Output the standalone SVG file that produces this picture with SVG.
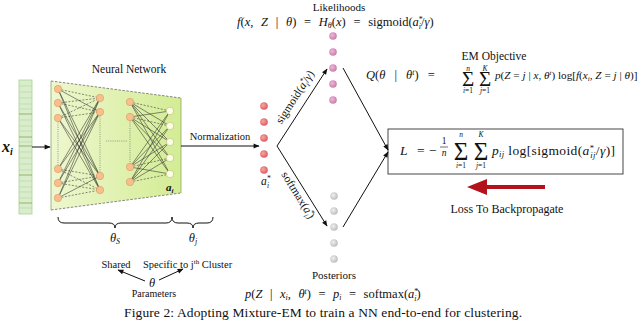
<svg xmlns="http://www.w3.org/2000/svg" width="640" height="327" viewBox="0 0 640 327" font-family="'Liberation Serif', 'Times New Roman', serif">
<defs>
<style>
text{font-family:"Liberation Serif","Times New Roman",serif;fill:#111}
.i{font-style:italic}
.ln{stroke:#111;stroke-width:1;fill:none}
.nn{stroke:#2a2a2a;stroke-width:0.55;fill:none}
.nd{stroke:#2a2a2a;stroke-width:0.55;fill:none;stroke-dasharray:2 1.5}
.dot{stroke:#444;stroke-width:0.5;stroke-dasharray:1 1.2;fill:none}
.o{fill:#f8bf8c;stroke:#d89a63;stroke-width:0.6}
.w{fill:#fdfde6;stroke:#c2c47c;stroke-width:0.7}
.r{fill:url(#rg)}
.p{fill:url(#pg)}
.g{fill:url(#gg)}
</style>
<linearGradient id="tz" x1="0" y1="0" x2="1" y2="0">
<stop offset="0" stop-color="#eef7cf"/>
<stop offset="1" stop-color="#d3ec94"/>
</linearGradient>
<radialGradient id="rg" cx="0.4" cy="0.4" r="0.6"><stop offset="0" stop-color="#f7a8a8"/><stop offset="1" stop-color="#e05a5a"/></radialGradient>
<radialGradient id="pg" cx="0.4" cy="0.4" r="0.6"><stop offset="0" stop-color="#efb8d8"/><stop offset="1" stop-color="#cc7aab"/></radialGradient>
<radialGradient id="gg" cx="0.4" cy="0.4" r="0.6"><stop offset="0" stop-color="#f0f0f0"/><stop offset="1" stop-color="#bdbdbd"/></radialGradient>
<marker id="ah" viewBox="0 0 10 10" refX="9" refY="5" markerWidth="7" markerHeight="6" markerUnits="userSpaceOnUse" orient="auto"><path d="M0,1 L10,5 L0,9 z" fill="#111"/></marker>
</defs>

<g id="input-vector">
<rect x="19" y="80" width="13" height="134" fill="#d9edcc" stroke="#a9d097" stroke-width="0.8"/>
<path d="M19,86H32M19,92H32M19,98H32M19,104H32M19,109H32M19,120H32M19,126H32M19,131H32M19,142H32M19,152H32M19,158H32M19,164H32M19,170H32M19,181H32M19,187H32M19,192H32M19,198H32M19,208H32" stroke="#b9d9a8" stroke-width="0.7"/>
<path d="M19,114H32M19,137H32M19,146H32M19,175H32M19,203H32" stroke="#8fae5c" stroke-width="0.9"/>
<text class="i" x="2" y="152" font-size="16" font-weight="bold">x<tspan font-size="10" dy="3">i</tspan></text>
</g>

<g id="neural-network">
<polygon points="51,81 181,98 181,193 51,210" fill="url(#tz)"/>
<path d="M51,81L181,98M51,210L181,193" stroke="#555" stroke-width="0.7" stroke-dasharray="2.5 1.5" fill="none"/>
<path d="M51,81V210M181,98V193" stroke="#8aa860" stroke-width="0.8" fill="none"/>
<text x="129" y="73" font-size="11.5" text-anchor="middle">Neural Network</text>
<path class="dot" d="M58,118V169M100,112V176M130,117V167M106,141H128"/>
<path class="nn" d="M58,89L100,176M58,89L100,190M58,103L100,176M58,103L100,190M58,118L100,176M58,118L100,190M58,169L100,98M58,169L100,112M58,183L100,98M58,183L100,112M58,198L100,98M58,198L100,112M58,89L100,112M58,198L100,176"/>
<path class="nd" d="M58,89L100,98M58,103L100,98M58,103L100,112M58,118L100,98M58,118L100,112M58,169L100,176M58,169L100,190M58,183L100,176M58,183L100,190M58,198L100,190"/>
<path class="nn" d="M130,102L170,126M130,102L170,142M130,102L170,158M130,102L170,174M130,117L170,111M130,117L170,142M130,117L170,158M130,117L170,174M130,167L170,111M130,167L170,126M130,167L170,142M130,167L170,174M130,182L170,111M130,182L170,126M130,182L170,142M130,182L170,158"/>
<path class="nd" d="M130,102L170,111M130,117L170,126M130,167L170,158M130,182L170,174"/>
<g>
<circle class="o" cx="58" cy="89" r="3.7"/><circle class="o" cx="58" cy="103" r="3.7"/><circle class="o" cx="58" cy="118" r="3.7"/>
<circle class="o" cx="58" cy="169" r="3.7"/><circle class="o" cx="58" cy="183" r="3.7"/><circle class="o" cx="58" cy="198" r="3.7"/>
<circle class="o" cx="100" cy="98" r="3.7"/><circle class="o" cx="100" cy="112" r="3.7"/><circle class="o" cx="100" cy="176" r="3.7"/><circle class="o" cx="100" cy="190" r="3.7"/>
<circle class="o" cx="130" cy="102" r="3.7"/><circle class="o" cx="130" cy="117" r="3.7"/><circle class="o" cx="130" cy="167" r="3.7"/><circle class="o" cx="130" cy="182" r="3.7"/>
<circle class="w" cx="170" cy="111" r="3.7"/><circle class="w" cx="170" cy="126" r="3.7"/><circle class="w" cx="170" cy="142" r="3.7"/><circle class="w" cx="170" cy="158" r="3.7"/><circle class="w" cx="170" cy="174" r="3.7"/>
</g>
<text class="i" x="166" y="191" font-size="11" font-weight="bold">a<tspan font-size="7" dy="2">i</tspan></text>
</g>

<g id="activations">
<circle class="r" cx="264" cy="106" r="3.8"/><circle class="r" cx="264" cy="122" r="3.8"/><circle class="r" cx="264" cy="138" r="3.8"/><circle class="r" cx="264" cy="154" r="3.8"/><circle class="r" cx="264" cy="170" r="3.8"/>
<text class="i" x="261" y="185" font-size="11.5">a<tspan font-size="7.5" dy="-4">*</tspan><tspan font-size="7.5" dx="-3.5" dy="7">i</tspan></text>
</g>

<g id="likelihoods">
<text x="339" y="11" font-size="11" text-anchor="middle">Likelihoods</text>
<text x="237" y="26" font-size="12.5" word-spacing="4.6"><tspan class="i">f</tspan>(<tspan class="i">x</tspan>, <tspan class="i">Z</tspan> | <tspan class="i">θ</tspan>) = <tspan class="i">H</tspan><tspan class="i" font-size="8" dy="2">θ</tspan><tspan dy="-2">(</tspan><tspan class="i">x</tspan>) = sigmoid(<tspan class="i">a</tspan><tspan font-size="8" dy="-4">*</tspan><tspan class="i" font-size="8" dx="-4" dy="7">i</tspan><tspan dy="-3">/</tspan><tspan class="i">γ</tspan>)</text>
<circle class="p" cx="333" cy="36" r="3.8"/><circle class="p" cx="333" cy="52" r="3.8"/><circle class="p" cx="333" cy="68" r="3.8"/><circle class="p" cx="333" cy="84" r="3.8"/><circle class="p" cx="333" cy="100" r="3.8"/>
</g>

<g id="posteriors">
<circle class="g" cx="334" cy="196" r="3.8"/><circle class="g" cx="334" cy="211" r="3.8"/><circle class="g" cx="334" cy="227" r="3.8"/><circle class="g" cx="334" cy="243" r="3.8"/><circle class="g" cx="334" cy="259" r="3.8"/>
<text x="334" y="279" font-size="11" text-anchor="middle">Posteriors</text>
<text x="245" y="298" font-size="12.5" word-spacing="4.4"><tspan class="i">p</tspan>(<tspan class="i">Z</tspan> | <tspan class="i">x</tspan><tspan class="i" font-size="8" dy="2">i</tspan><tspan dy="-2">, </tspan><tspan class="i">θ</tspan><tspan class="i" font-size="8" dy="-4">t</tspan><tspan dy="4">) = </tspan><tspan class="i">p</tspan><tspan class="i" font-size="8" dy="2">i</tspan><tspan dy="-2"> = softmax(</tspan><tspan class="i">a</tspan><tspan font-size="8" dy="-4">*</tspan><tspan class="i" font-size="8" dx="-4" dy="7">i</tspan><tspan dy="-3">)</tspan></text>
</g>

<g id="em-objective">
<text x="494" y="60" font-size="11.5" text-anchor="middle">EM Objective</text>
<text x="366" y="79" font-size="12.5" word-spacing="6"><tspan class="i">Q</tspan>(<tspan class="i">θ</tspan> | <tspan class="i">θ</tspan><tspan class="i" font-size="8" dy="-4">t</tspan><tspan dy="4">) =</tspan></text>
<text font-size="7.5" text-anchor="middle"><tspan class="i" x="468" y="70.5">n</tspan><tspan x="468" y="85.5" font-size="21">Σ</tspan><tspan x="468" y="92.5"><tspan class="i">i</tspan>=1</tspan></text>
<text font-size="7.5" text-anchor="middle"><tspan class="i" x="485" y="70.5">K</tspan><tspan x="485" y="85.5" font-size="21">Σ</tspan><tspan x="485" y="92.5"><tspan class="i">j</tspan>=1</tspan></text>
<text x="495" y="79" font-size="11.2"><tspan class="i">p</tspan>(<tspan class="i">Z</tspan> = <tspan class="i">j</tspan> | <tspan class="i">x</tspan>, <tspan class="i">θ</tspan><tspan class="i" font-size="7" dy="-4">t</tspan><tspan dy="4">) log[</tspan><tspan class="i">f</tspan>(<tspan class="i">x</tspan><tspan class="i" font-size="7" dy="2">i</tspan><tspan dy="-2">, </tspan><tspan class="i">Z</tspan> = <tspan class="i">j</tspan> | <tspan class="i">θ</tspan>)]</text>
</g>

<g id="loss-box">
<rect x="388" y="129" width="235" height="45" fill="#fff" stroke="#333" stroke-width="0.9"/>
<text x="400" y="155" font-size="13.5"><tspan class="i">L</tspan><tspan x="417">=</tspan><tspan x="429">−</tspan></text>
<text font-size="9.5" text-anchor="middle"><tspan x="444" y="144">1</tspan><tspan class="i" x="444" y="155.5">n</tspan></text>
<path d="M440,147H448" stroke="#111" stroke-width="0.6"/>
<text font-size="7.5" text-anchor="middle"><tspan class="i" x="461" y="137">n</tspan><tspan x="461" y="160" font-size="25">Σ</tspan><tspan x="461" y="168"><tspan class="i">i</tspan>=1</tspan></text>
<text font-size="7.5" text-anchor="middle"><tspan class="i" x="481" y="137">K</tspan><tspan x="481" y="160" font-size="25">Σ</tspan><tspan x="481" y="168"><tspan class="i">j</tspan>=1</tspan></text>
<text x="492" y="155" font-size="13.5" textLength="123" lengthAdjust="spacing"><tspan class="i">p</tspan><tspan class="i" font-size="8.5" dy="2">ij</tspan><tspan dy="-2"> log[sigmoid(</tspan><tspan class="i">a</tspan><tspan font-size="8.5" dy="-4">*</tspan><tspan class="i" font-size="8.5" dx="-4" dy="7">ij</tspan><tspan dy="-3">/</tspan><tspan class="i">γ</tspan>)]</text>
</g>

<g id="backprop">
<path d="M545,187H484" stroke="#b3121c" stroke-width="4" fill="none"/>
<path d="M467,187L487,179L487,195Z" fill="#b3121c"/>
<text x="507" y="213" font-size="12" text-anchor="middle">Loss To Backpropagate</text>
</g>

<g id="parameters">
<path class="ln" stroke-width="0.9" d="M58,217Q58,223 64,223L109,223Q115,223 115,228Q115,223 121,223L166,223Q172,223 172,217"/>
<path class="ln" stroke-width="0.9" d="M172,217Q172,223 178,223L187,223Q193,223 193,228Q193,223 199,223L207,223Q213,223 213,217"/>
<text class="i" x="115" y="242" font-size="12.5" text-anchor="middle">θ<tspan font-size="8" dy="2">S</tspan></text>
<text class="i" x="193" y="242" font-size="12.5" text-anchor="middle">θ<tspan font-size="8" dy="2">j</tspan></text>
<text x="116" y="268" font-size="10.5" text-anchor="middle">Shared</text>
<text x="143" y="268" font-size="10.5">Specific to j<tspan font-size="7" dy="-4">th</tspan><tspan dy="4"> Cluster</tspan></text>
<text text-anchor="middle"><tspan class="i" x="152" y="287" font-size="12.5">θ</tspan><tspan x="154" y="296.5" font-size="10">Parameters</tspan></text>
</g>

<g id="connectors">
<path class="ln" d="M32,147H50" marker-end="url(#ah)"/>
<path class="ln" d="M181,146H259" marker-end="url(#ah)"/>
<text x="220" y="140" font-size="10.5" text-anchor="middle">Normalization</text>
<path class="ln" d="M277,146L327,69" marker-end="url(#ah)"/>
<path class="ln" d="M277,146L327,226" marker-end="url(#ah)"/>
<path class="ln" d="M343,68L388,150" marker-end="url(#ah)"/>
<path class="ln" d="M343,227L388,152" marker-end="url(#ah)"/>
<path class="ln" d="M145,281L118,270" marker-end="url(#ah)"/>
<path class="ln" d="M159,280L183,269" marker-end="url(#ah)"/>
<text transform="translate(298,99) rotate(-57)" font-size="11.5" text-anchor="middle">sigmoid(<tspan class="i">a</tspan><tspan font-size="7.5" dy="-4">*</tspan><tspan class="i" font-size="7.5" dx="-3.5" dy="7">i</tspan><tspan dy="-3">/</tspan><tspan class="i">γ</tspan>)</text>
<text transform="translate(295,197) rotate(58)" font-size="11.5" text-anchor="middle">softmax(<tspan class="i">a</tspan><tspan font-size="7.5" dy="-4">*</tspan><tspan class="i" font-size="7.5" dx="-3.5" dy="7">i</tspan><tspan dy="-3">)</tspan></text>
</g>

<text x="323" y="317" font-size="13.5" text-anchor="middle" textLength="398" lengthAdjust="spacing">Figure 2: Adopting Mixture-EM to train a NN end-to-end for clustering.</text>
</svg>
